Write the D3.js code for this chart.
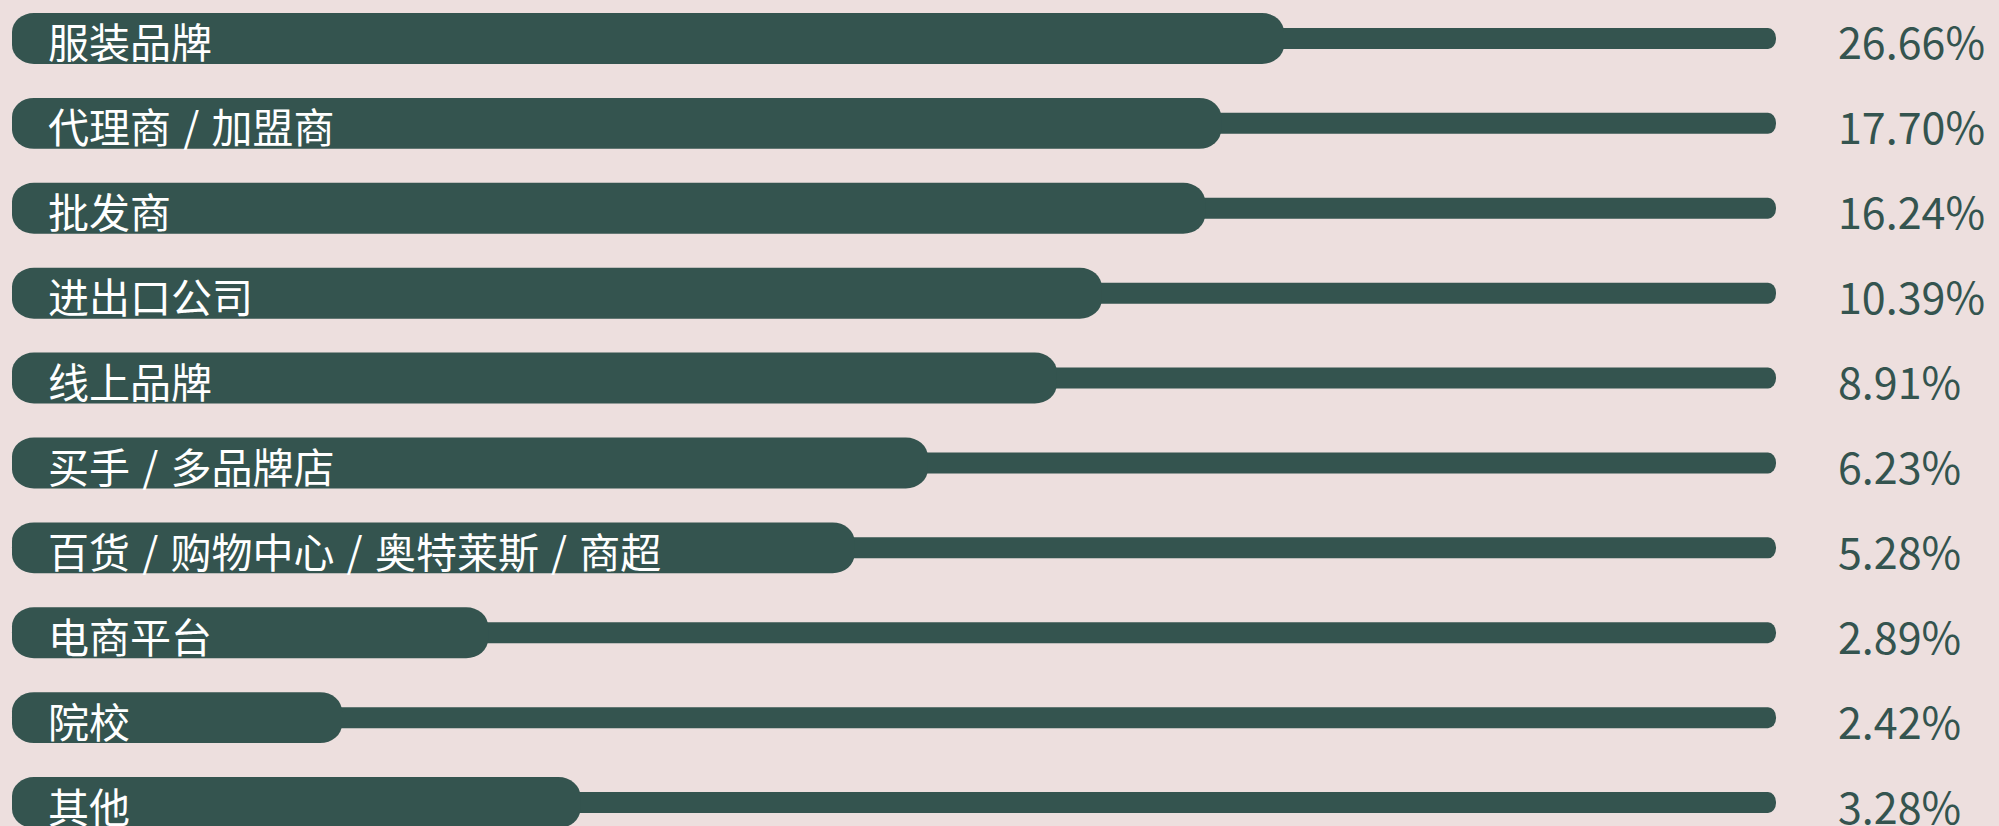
<!DOCTYPE html>
<html>
<head>
<meta charset="utf-8">
<script src="https://cdn.jsdelivr.net/npm/d3@7"></script>
<style>
  html, body { margin: 0; padding: 0; background: #EDDFDE; }
  svg { display: block; }
</style>
</head>
<body>
<svg id="chart"></svg>
<script>
const categories = ["服装品牌", "代理商 / 加盟商", "批发商", "进出口公司", "线上品牌", "买手 / 多品牌店", "百货 / 购物中心 / 奥特莱斯 / 商超", "电商平台", "院校", "其他"];
const values = [26.66, 17.70, 16.24, 10.39, 8.91, 6.23, 5.28, 2.89, 2.42, 3.28];
const valueLabels = ["26.66%", "17.70%", "16.24%", "10.39%", "8.91%", "6.23%", "5.28%", "2.89%", "2.42%", "3.28%"];

const W = 1999, H = 826;
const bg = "#EDDFDE", ink = "#34544F";
const left = 12, trackRight = 1776, valueX = 1838;

const svg = d3.select("#chart").attr("width", W).attr("height", H);
svg.append("rect").attr("width", W).attr("height", H).attr("fill", bg);

const y = d3.scaleBand().domain(categories).range([13, 828]).paddingInner(0.4).paddingOuter(0);
const w = d3.scalePow().exponent(-0.8).domain(d3.extent(values)).range([330, 1272]);
const trackH = 21;

const rows = svg.selectAll("g.row").data(categories.map((c, i) => ({c, v: values[i], lab: valueLabels[i]})))
  .join("g").attr("class", "row")
  .attr("transform", d => `translate(0,${y(d.c)})`);

rows.append("rect")
  .attr("x", left).attr("y", d => y.bandwidth() / 2 - trackH / 2)
  .attr("width", trackRight - left).attr("height", trackH)
  .attr("rx", 8).attr("ry", 10).attr("fill", ink);

rows.append("rect")
  .attr("x", left).attr("y", 0)
  .attr("width", d => w(d.v)).attr("height", y.bandwidth())
  .attr("rx", 22).attr("ry", 19).attr("fill", ink);

rows.append("text")
  .attr("x", 48).attr("y", y.bandwidth() / 2 + 2)
  .attr("dominant-baseline", "central")
  .attr("font-family", "'Noto Sans CJK SC', 'Noto Sans', sans-serif")
  .attr("font-size", 41).attr("word-spacing", 3).attr("fill", "#FFFFFF")
  .text(d => d.c);

rows.append("text")
  .attr("x", valueX).attr("y", y.bandwidth() / 2 + 2)
  .attr("dominant-baseline", "central")
  .attr("font-family", "'Noto Sans CJK SC', 'Noto Sans', sans-serif")
  .attr("font-size", 43).attr("fill", ink)
  .text(d => d.lab);
</script>
</body>
</html>
